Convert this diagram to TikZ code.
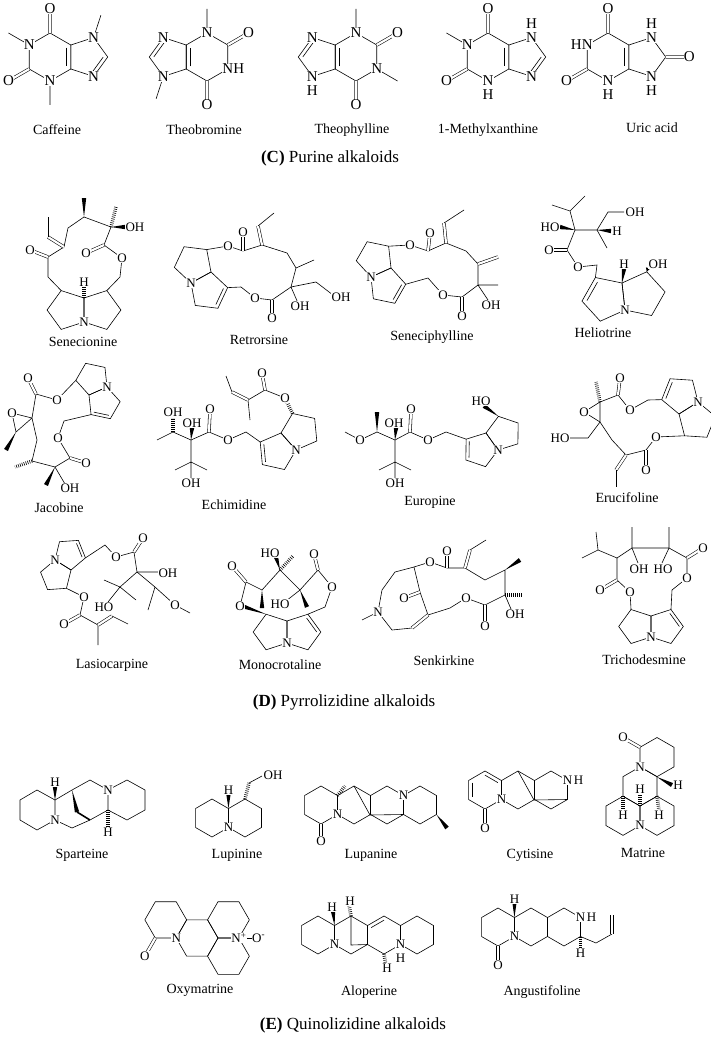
\documentclass[tikz,border=0pt]{standalone}
\usepackage{fontspec}
\setmainfont{Liberation Serif}
\usetikzlibrary{calc}
\pgfdeclarelayer{fg}
\pgfsetlayers{main,fg}
\newcounter{an}
\tikzset{bond/.style={line width=0.6pt},
 dbl/.style={double, double distance=2.2pt, line width=0.55pt},
 atom/.style={fill=white, inner sep=0.3pt, font=\fontsize{13}{13}\selectfont},
 atomb/.style={atom, font=\fontsize{15}{15}\selectfont},
 lbl/.style={font=\fontsize{14}{14}\selectfont},
 hdr/.style={font=\fontsize{17}{18}\selectfont}}
\newcommand\Atm[3][atom]{\stepcounter{an}\begin{pgfonlayer}{fg}\node[#1] (at\arabic{an}) at (#2) {#3};\end{pgfonlayer}}
\newcommand\Dd[3]{\draw[bond] ($(#1)!0.22!(#3)$) -- ($(#2)!0.22!(#3)$);}
\newcommand\Hx[4]{\coordinate (#10) at (#2); \coordinate (#11) at (#3);
 \coordinate (#12) at ($(#11)!1!#4:(#10)$);
 \coordinate (#13) at ($(#12)!1!#4:(#11)$);
 \coordinate (#14) at ($(#13)!1!#4:(#12)$);
 \coordinate (#15) at ($(#14)!1!#4:(#13)$);
 \coordinate (#1c) at ($(#10)!0.5!(#13)$);
 \draw[bond] (#10)--(#11)--(#12)--(#13)--(#14)--(#15)--cycle;}
\newcommand\Pn[4]{\coordinate (#10) at (#2); \coordinate (#11) at (#3);
 \coordinate (#12) at ($(#11)!1!#4:(#10)$);
 \coordinate (#13) at ($(#12)!1!#4:(#11)$);
 \coordinate (#14) at ($(#13)!1!#4:(#12)$);
 \coordinate (#1c) at ($0.2*(#10)+0.2*(#11)+0.2*(#12)+0.2*(#13)+0.2*(#14)$);
 \draw[bond] (#10)--(#11)--(#12)--(#13)--(#14)--cycle;}
\newcommand\Pz[6]{\Pn{#1a}{#2}{#3}{#4}\Pn{#1b}{#2}{#3}{#5}\ifnum#6=1 \Dd{#1a2}{#1a3}{#1ac}\fi\Atm{#1a0}{N}}
\newcommand\Hp[3]{\coordinate (#1t) at (#2,#3-19); \coordinate (#1ur) at (#2+16.45,#3-9.5);
 \coordinate (#1lr) at (#2+16.45,#3+9.5); \coordinate (#1b) at (#2,#3+19);
 \coordinate (#1ll) at (#2-16.45,#3+9.5); \coordinate (#1ul) at (#2-16.45,#3-9.5); \coordinate (#1c) at (#2,#3);
 \draw[bond] (#1t)--(#1ur)--(#1lr)--(#1b)--(#1ll)--(#1ul)--cycle;}
\newcommand\Wdg[2]{\fill (#1) -- ($(#2)!2.2pt!90:(#1)$) -- ($(#2)!2.2pt!-90:(#1)$) -- cycle;}
\newcommand\Hsh[2]{\draw[line width=3.5pt, dash pattern=on 0.6pt off 1.4pt] (#1) -- (#2);}
\newcommand\Purine[3]{\Hx{#1h}{#2}{#3}{120}\Pn{#1p}{#3}{#2}{108}\Dd{#1h0}{#1h1}{#1hc}
 \coordinate (#1O6) at ($(#1hc)!2!(#1h5)$);
 \coordinate (#1O2) at ($(#1hc)!2!(#1h3)$);
 \coordinate (#1X1) at ($(#1hc)!2!(#1h4)$);
 \coordinate (#1X3) at ($(#1hc)!2!(#1h2)$);
 \coordinate (#1X7) at ($(#1pc)!2.15!(#1p2)$);
 \coordinate (#1X8) at ($(#1pc)!2.15!(#1p3)$);
 \coordinate (#1X9) at ($(#1pc)!2.15!(#1p4)$);
 \draw[dbl] (#1h5)--(#1O6); \draw[dbl] (#1h3)--(#1O2);
 \Atm[atomb]{#1O6}{O}\Atm[atomb]{#1O2}{O}}
\newcommand\Matskel{%
 \draw[bond] (0,0)--(19,0)--(28.5,-16.5)--(19,-33)--(0,-33)--(-9.5,-16.5)--cycle;
 \draw[bond] (0,0)--(19,0)--(28.5,16.5)--(19,33)--(0,33)--(-9.5,16.5)--cycle;
 \draw[bond] (0,0)--(-9.5,-16.5)--(-28.5,-16.5)--(-38,0)--(-28.5,16.5)--(-9.5,16.5)--cycle;
 \draw[bond] (-38,0)--(-28.5,-16.5)--(-38,-33)--(-57,-33)--(-66.5,-16.5)--(-57,0)--cycle;
 \draw[dbl] (-57,0)--(-66.5,16.5);
 \Atm{-38,0}{N}\Atm{-66.5,16.5}{O}}
\begin{document}
\begin{tikzpicture}[x=1pt,y=-1pt]
\fill[white] (0,0) rectangle (710,1038);
\useasboundingbox (0,0) rectangle (710,1038);
% ---------- Row 1: purines
\Purine{ca}{70.8,45}{70.8,69}
\draw[bond] (cah4)--(caX1) (cah2)--(caX3) (cap2)--(caX7);
\Dd{cap3}{cap4}{capc}
\Atm[atomb]{cah4}{N}\Atm[atomb]{cah2}{N}\Atm[atomb]{cap2}{N}\Atm[atomb]{cap4}{N}
\Purine{tb}{186.2,69}{186.2,45}
\draw[bond] (tbh2)--(tbX3) (tbp2)--(tbX7);
\Dd{tbp3}{tbp4}{tbpc}
\Atm[atomb]{tbh4}{N}\Atm[atomb]{$(tbh4)+(11,0)$}{H}\Atm[atomb]{tbh2}{N}\Atm[atomb]{tbp2}{N}\Atm[atomb]{tbp4}{N}
\Purine{tp}{335.2,69}{335.2,45}
\draw[bond] (tph2)--(tpX3) (tph4)--(tpX1);
\Dd{tpp3}{tpp4}{tppc}
\Atm[atomb]{tph4}{N}\Atm[atomb]{tph2}{N}\Atm[atomb]{tpp2}{N}\Atm[atomb]{$(tpp2)+(0,14)$}{H}\Atm[atomb]{tpp4}{N}
\Purine{mx}{508.8,45}{508.8,69}
\draw[bond] (mxh4)--(mxX1);
\Dd{mxp3}{mxp4}{mxpc}
\Atm[atomb]{mxh4}{N}\Atm[atomb]{mxh2}{N}\Atm[atomb]{$(mxh2)+(0,14)$}{H}\Atm[atomb]{mxp2}{N}\Atm[atomb]{$(mxp2)+(0,-14)$}{H}\Atm[atomb]{mxp4}{N}
\Purine{ua}{628.8,45}{628.8,69}
\draw[dbl] (uap3)--(uaX8);
\Atm[atomb]{uaX8}{O}
\Atm[atomb]{uah4}{N}\Atm[atomb]{$(uah4)+(-11,0)$}{H}\Atm[atomb]{uah2}{N}\Atm[atomb]{$(uah2)+(0,14)$}{H}
\Atm[atomb]{uap2}{N}\Atm[atomb]{$(uap2)+(0,-14)$}{H}\Atm[atomb]{uap4}{N}\Atm[atomb]{$(uap4)+(0,14)$}{H}
\node[lbl] (l1) at (57,130) {Caffeine};
\node[lbl] (l2) at (204,130) {Theobromine};
\node[lbl] (l3) at (352,130) {Theophylline};
\node[lbl] (l4) at (488,130) {1-Methylxanthine};
\node[lbl] (l5) at (652,128) {Uric acid};
\node[hdr] (hC) at (330,158) {\textbf{(C)} Purine alkaloids};
% ---------- Row 2
% Senecionine
\Pz{sn}{84,322}{84,298}{108}{-108}{0}
\draw[bond] (snb2) -- (48,277) -- (48,257) -- (64,247) -- (68,228) -- (84,217) -- (111,227) -- (104,245) -- (122,258) -- (120,277) -- (sna2);
\draw[dbl] (64,247) -- (48,237); \draw[bond] (48,237)--(48,217);
\draw[dbl] (48,257) -- (30,250); \draw[dbl] (104,245)--(86,253);
\Wdg{84,217}{84,198} \Hsh{111,227}{116,207} \Wdg{111,227}{125,227} \Hsh{sna1}{84,286}
\Atm{30,250}{O}\Atm{86,253}{O}\Atm{122,258}{O}\Atm{135,227}{OH}\Atm{84,282}{H}
% Retrorsine
\Pz{rt}{191,283}{211,272}{108}{-108}{1}
\draw[bond] (rtb2) -- (228,246) -- (243,251) -- (262,245) -- (287,253) -- (296,268) -- (291,287) -- (272,300) -- (255,298) -- (241,287) -- (rta2);
\draw[dbl] (243,251)--(243,232); \draw[dbl] (262,245)--(258,226); \draw[bond] (258,226)--(274,213);
\draw[bond] (296,268)--(314,260) (291,287)--(316,282)--(333,295) (291,287)--(298,303);
\draw[dbl] (272,300)--(272,318);
\Atm{228,246}{O}\Atm{255,298}{O}\Atm{243,232}{O}\Atm{272,318}{O}\Atm{300,306}{OH}\Atm{341,297}{OH}
% Seneciphylline
\Pz{sp}{371,277}{391,268}{108}{-108}{1}
\draw[bond] (spb2) -- (410,245) -- (428,251) -- (446,243) -- (466,251) -- (478,264) -- (478,285) -- (462,297) -- (443,295) -- (428,278) -- (spa2);
\draw[dbl] (428,251)--(430,233); \draw[dbl] (446,243)--(444,223); \draw[bond] (444,223)--(464,210);
\draw[dbl] (478,264)--(498,257); \draw[bond] (478,285)--(498,285) (478,285)--(488,300);
\draw[dbl] (462,297)--(462,316);
\Atm{410,245}{O}\Atm{443,295}{O}\Atm{430,233}{O}\Atm{462,316}{O}\Atm{491,305}{OH}
% Heliotrine
\Pz{ht}{625,310}{622,283}{-108}{108}{1}
\draw[bond] (hta2) -- (597,265) -- (578,267) -- (567,250) -- (575,230) -- (597,230) -- (608,212) -- (624,212);
\draw[dbl] (567,250)--(549,250);
\draw[bond] (575,230)--(570,211)--(552,205) (570,211)--(585,196) (597,230)--(607,248);
\Wdg{575,230}{560,227} \Wdg{597,230}{611,231} \Wdg{htb1}{624,269} \Wdg{htb2}{648,268}
\Atm{578,267}{O}\Atm{549,250}{O}\Atm{550,227}{HO}\Atm{617,231}{H}\Atm{635,212}{OH}\Atm{624,264}{H}\Atm{658,264}{OH}
\node[lbl] (l6) at (83,342) {Senecionine};
\node[lbl] (l7) at (259,340) {Retrorsine};
\node[lbl] (l8) at (432,337) {Seneciphylline};
\node[lbl] (l9) at (603,333) {Heliotrine};
% ---------- Row 3
% Jacobine
\Pz{jb}{107,387}{89,395}{-108}{108}{1}
\draw[bond] (jbb2) -- (57,400) -- (36,394) -- (32,418) -- (37,440) -- (32,461) -- (55,467) -- (70,458) -- (58,438) -- (64,421) -- (jba2);
\draw[dbl] (36,394)--(28,378);
\draw[bond] (32,418)--(12,413)--(16,432)--(32,418) (55,467)--(65,484);
\draw[dbl] (70,458)--(86,463);
\Wdg{16,432}{6,450} \Hsh{32,461}{15,467} \Wdg{55,467}{46,485}
\Atm{57,400}{O}\Atm{28,378}{O}\Atm{12,413}{O}\Atm{58,438}{O}\Atm{86,463}{O}\Atm{70,488}{OH}
% Echimidine
\Pz{ec}{296,450}{281,433}{-108}{108}{1}
\draw[bond] (eca2) -- (246,432) -- (228,440) -- (209,432) -- (191,440) -- (173,432) -- (157,440);
\draw[dbl] (209,432)--(210,411);
\draw[bond] (191,440)--(191,462)--(175,470) (191,462)--(207,470) (191,462)--(191,478);
\Wdg{191,440}{192,428} \Hsh{173,432}{173,418} \Hsh{ecb2}{285,398}
\draw[bond] (285,398)--(265,390)--(248,400)--(250,420);
\draw[dbl] (265,390)--(262,373); \draw[dbl] (248,400)--(232,392); \draw[bond] (232,392)--(226,376);
\Atm{228,440}{O}\Atm{210,409}{O}\Atm{192,423}{OH}\Atm{173,412}{OH}\Atm{191,483}{OH}\Atm{285,398}{O}\Atm{262,373}{O}
% Europine
\Pz{eu}{498,450}{486,433}{-108}{108}{1}
\draw[bond] (eua2) -- (446,432) -- (428,440) -- (410,432) -- (395,440) -- (377,432) -- (360,440) -- (345,432);
\draw[dbl] (410,432)--(411,411);
\draw[bond] (395,440)--(395,462)--(379,470) (395,462)--(411,470) (395,462)--(395,478);
\Wdg{395,440}{396,428} \Wdg{377,432}{377,412} \Wdg{eub2}{484,406}
\Atm{428,440}{O}\Atm{360,440}{O}\Atm{411,409}{O}\Atm{394,423}{OH}\Atm{395,483}{OH}\Atm{481,401}{HO}
% Erucifoline
\Pz{er}{698,402}{679,414}{108}{-108}{1}
\draw[bond] (era2) -- (648,400) -- (630,410) -- (618,395) -- (600,402) -- (600,422) -- (612,440) -- (626,455) -- (646,450) -- (656,437) -- (erb2);
\draw[dbl] (618,395)--(620,378);
\draw[bond] (600,402)--(584,412)--(600,422) (600,422)--(588,438)--(570,438);
\draw[dbl] (626,455)--(616,470); \draw[bond] (616,470)--(616,487);
\draw[dbl] (646,450)--(646,470);
\Hsh{600,402}{596,382}
\Atm{630,410}{O}\Atm{656,437}{O}\Atm{620,378}{O}\Atm{584,412}{O}\Atm{560,438}{HO}\Atm{646,470}{O}
\node[lbl] (l10) at (59,508) {Jacobine};
\node[lbl] (l11) at (234,505) {Echimidine};
\node[lbl] (l12) at (430,502) {Europine};
\node[lbl] (l13) at (627,498) {Erucifoline};
% ---------- Row 4
% Lasiocarpine
\Pz{lc}{55,560}{71,570}{-108}{108}{1}
\draw[bond] (lca2) -- (105,545) -- (116,557) -- (134,552) -- (137,572) -- (155,587) -- (175,605) -- (190,613);
\draw[dbl] (134,552)--(143,538);
\draw[bond] (137,572)--(158,572) (137,572)--(120,587)--(104,580) (120,587)--(108,602) (120,587)--(136,600) (155,587)--(148,610);
\draw[bond] (lcb2)--(84,597)--(80,615)--(98,625)--(98,645);
\draw[dbl] (80,615)--(64,624); \draw[dbl] (98,625)--(112,616); \draw[bond] (112,616)--(128,624);
\Atm{116,557}{O}\Atm{175,605}{O}\Atm{143,538}{O}\Atm{168,573}{OH}\Atm{104,607}{HO}\Atm{84,597}{O}\Atm{64,624}{O}
% Monocrotaline
\Pz{mc}{287,643}{287,621}{108}{-108}{1}
\Wdg{mcb2}{242,606}
\draw[bond] (240,606) -- (246,582) -- (262,590) -- (280,570) -- (300,590) -- (318,570) -- (332,587) -- (325,607) -- (mca2);
\draw[dbl] (246,582)--(232,566); \draw[dbl] (318,570)--(314,554);
\draw[bond] (300,590)--(286,601);
\Wdg{262,590}{262,608} \Wdg{280,570}{276,557} \Hsh{280,570}{293,556} \Wdg{300,590}{307,607}
\Atm{240,606}{O}\Atm{232,566}{O}\Atm{314,554}{O}\Atm{332,587}{O}\Atm{270,553}{HO}\Atm{280,604}{HO}
% Senkirkine
\draw[bond] (378,612) -- (382,590) -- (395,572) -- (414,567) -- (420,592) -- (428,615) -- (412,628) -- (392,630) -- (378,612);
\draw[dbl] (428,615) -- (412,628);
\draw[dbl] (420,592) -- (404,598);
\draw[bond] (378,612) -- (362,620);
\draw[bond] (414,567) -- (430,562) -- (447,568) -- (465,568) -- (485,580) -- (505,570) -- (505,595) -- (485,605) -- (466,598) -- (450,608) -- (428,615);
\draw[dbl] (447,568)--(447,551); \draw[dbl] (465,568)--(470,550); \draw[bond] (470,550)--(486,540);
\Wdg{505,570}{520,560} \Hsh{505,595}{522,595} \draw[bond] (505,595)--(511,609);
\draw[dbl] (485,605)--(485,624);
\Atm{378,612}{N}\Atm{404,598}{O}\Atm{430,562}{O}\Atm{466,598}{O}\Atm{447,551}{O}\Atm{515,614}{OH}\Atm{485,626}{O}
% Trichodesmine
\Pz{tc}{651,637}{651,616}{108}{-108}{1}
\draw[bond] (tcb2) -- (630,592) -- (617,580) -- (617,558) -- (632,548) -- (669,548) -- (687,558) -- (687,578) -- (672,590) -- (tca2);
\draw[dbl] (617,580)--(600,590); \draw[dbl] (687,558)--(703,548);
\draw[bond] (617,558)--(598,550)--(582,558) (598,550)--(596,532) (632,548)--(632,527) (669,548)--(669,527) (632,548)--(638,563) (669,548)--(662,563);
\Atm{630,592}{O}\Atm{687,578}{O}\Atm{600,590}{O}\Atm{703,548}{O}\Atm{639,569}{OH}\Atm{663,569}{HO}
\node[lbl] (l14) at (112,665) {Lasiocarpine};
\node[lbl] (l15) at (280,665) {Monocrotaline};
\node[lbl] (l16) at (444,661) {Senkirkine};
\node[lbl] (l17) at (644,660) {Trichodesmine};
\node[hdr] (hD) at (344,702) {\textbf{(D)} Pyrrolizidine alkaloids};
% ---------- Row 5
% Sparteine
\draw[bond] (20,800)--(37,790)--(55,800)--(55,820)--(37,830)--(20,820)--cycle;
\draw[bond] (55,800)--(72,790)--(90,780)--(108,790)--(108,810)--(90,820)--(72,828)--(55,820);
\draw[bond] (108,790)--(127,780)--(145,790)--(145,810)--(127,820)--(108,810);
\Wdg{72,790}{77,812} \draw[line width=1.6pt] (77,812)--(90,820);
\Wdg{55,800}{55,787} \Hsh{108,810}{108,827}
\Atm{55,820}{N}\Atm{108,790}{N}\Atm{55,782}{H}\Atm{108,832}{H}
% Lupinine
\Hp{la}{212}{818}\Hp{lb}{245}{818}
\Wdg{laur}{228.45,794} \Hsh{lbt}{249,783}
\draw[bond] (249,783)--(262,776);
\Atm{lalr}{N}\Atm{228.45,790}{H}\Atm{273,775}{OH}
% Lupanine
\Hp{pa}{321}{805}\Hp{pb}{354}{805}\Hp{pc}{387}{805}\Hp{pd}{420}{805}
\draw[dbl] (pab)--(321,841);
\draw[bond] (pbt) -- (370,815) -- (pclr);
\Hsh{paur}{345,786} \Wdg{pdlr}{447,828}
\Atm{palr}{N}\Atm{pcur}{N}\Atm{321,841}{O}
% Cytisine
\Hp{ya}{485}{790}\Hp{yb}{518}{790}\Hp{yc}{551}{790}
\Dd{yaul}{yall}{yac}\Dd{yat}{yaur}{yac}
\draw[dbl] (yab)--(485,827);
\draw[bond] (ybt) -- (534,800) -- (yclr);
\Atm{yalr}{N}\Atm{485,828}{O}\Atm{ycur}{N}\Atm{$(ycur)+(11,0)$}{H}
% Matrine
\begin{scope}[shift={(640,806)}, rotate=-90, scale=1.03]
\Matskel
\Atm{19,0}{N}
\end{scope}
\Wdg{657,777}{672,785} \Hsh{640,806}{640,792} \Hsh{623,796}{623,811} \Hsh{657,796}{659,811}
\Atm{678,785}{H}\Atm{640,789}{H}\Atm{623,815}{H}\Atm{659,815}{H}
\node[lbl] (l18) at (82,855) {Sparteine};
\node[lbl] (l19) at (237,855) {Lupinine};
\node[lbl] (l20) at (371,855) {Lupanine};
\node[lbl] (l21) at (530,855) {Cytisine};
\node[lbl] (l22) at (643,853) {Matrine};
% ---------- Row 6
\begin{scope}[shift={(218,938)}, scale=1.1]
\Matskel
\draw[bond] (19,0)--(36,0);
\Atm{19,0}{N\textsuperscript{+}}\Atm{37,0}{O\textsuperscript{-}}
\end{scope}
% Aloperine
\Hp{aa}{318}{935}\Hp{ab}{351}{935}\Hp{ac}{384}{935}\Hp{ad}{417}{935}
\Dd{acul}{act}{acc}
\draw[bond] (abt) -- (351,945) -- (ablr);
\Wdg{abul}{333,911} \Hsh{abt}{349,905} \Hsh{acb}{386,966}
\Atm{aalr}{N}\Atm{aclr}{N}\Atm{$(aclr)+(0,14)$}{H}\Atm{332,907}{H}\Atm{350,901}{H}\Atm{387,968}{H}
% Angustifoline
\Hp{ga}{498}{927}\Hp{gb}{531}{927}\Hp{gc}{564}{927}
\draw[dbl] (gab)--(498,963);
\Wdg{gaur}{514.45,902} \Hsh{gclr}{580.45,949}
\draw[bond] (gclr)--(596,943)--(612,934); \draw[dbl] (612,934)--(612,915);
\Atm{galr}{N}\Atm{498,965}{O}\Atm{514.45,899}{H}\Atm{gcur}{N}\Atm{$(gcur)+(11,0)$}{H}\Atm{580.45,953}{H}
\node[lbl] (l23) at (200,990) {Oxymatrine};
\node[lbl] (l24) at (369,992) {Aloperine};
\node[lbl] (l25) at (542,992) {Angustifoline};
\node[hdr] (hE) at (353,1025) {\textbf{(E)} Quinolizidine alkaloids};
\end{tikzpicture}
\end{document}
